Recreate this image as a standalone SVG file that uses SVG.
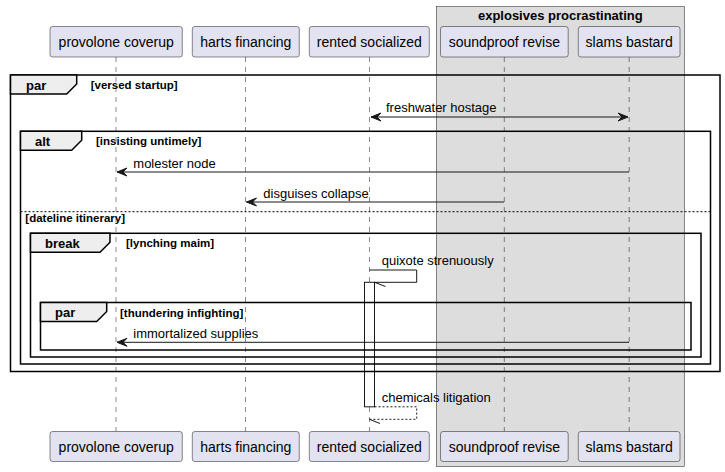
<svg xmlns="http://www.w3.org/2000/svg" width="725" height="472" viewBox="0 0 725 472">
<style>
text{font-family:"Liberation Sans",Arial,sans-serif;fill:#000}
.pbox{fill:#E2E2F0;stroke:#181818;stroke-width:0.5}
.pt{font-size:14px;text-anchor:middle}
.life{stroke:#181818;stroke-width:0.5;stroke-dasharray:5,5;fill:none}
.frame{fill:none;stroke:#000;stroke-width:1.5}
.tab{fill:#EEEEEE;stroke:#000;stroke-width:1.5}
.tl{font-size:13px;font-weight:bold}
.gl{font-size:11.5px;font-weight:bold}
.msg{stroke:#181818;stroke-width:1;fill:none}
.dash{stroke:#181818;stroke-width:1;fill:none;stroke-dasharray:2,2}
.ah{fill:#181818;stroke:#181818;stroke-width:1}
.ml{font-size:13px}
</style>
<g id="group-explosives">
<rect x="436.3" y="6.7" width="248" height="460" fill="#DDDDDD" stroke="#181818" stroke-width="0.5"/>
<text x="560.3" y="20" font-size="13" font-weight="bold" text-anchor="middle">explosives procrastinating</text>
</g>
<g id="lifelines">
<line class="life" x1="116" y1="57" x2="116" y2="431.5"/>
<line class="life" x1="245.5" y1="57" x2="245.5" y2="431.5"/>
<line class="life" x1="369.5" y1="57" x2="369.5" y2="431.5"/>
<line class="life" x1="504.3" y1="57" x2="504.3" y2="431.5"/>
<line class="life" x1="629.2" y1="57" x2="629.2" y2="431.5"/>
</g>
<g id="provolone-coverup">
<rect class="pbox" x="50" y="26.5" width="132.3" height="30.5" rx="2.5"/>
<text class="pt" x="116.2" y="47">provolone coverup</text>
<rect class="pbox" x="50" y="431.5" width="132.3" height="30" rx="2.5"/>
<text class="pt" x="116.2" y="451.5">provolone coverup</text>
</g>
<g id="harts-financing">
<rect class="pbox" x="192.3" y="26.5" width="107" height="30.5" rx="2.5"/>
<text class="pt" x="245.8" y="47">harts financing</text>
<rect class="pbox" x="192.3" y="431.5" width="107" height="30" rx="2.5"/>
<text class="pt" x="245.8" y="451.5">harts financing</text>
</g>
<g id="rented-socialized">
<rect class="pbox" x="309.3" y="26.5" width="120" height="30.5" rx="2.5"/>
<text class="pt" x="369.3" y="47">rented socialized</text>
<rect class="pbox" x="309.3" y="431.5" width="120" height="30" rx="2.5"/>
<text class="pt" x="369.3" y="451.5">rented socialized</text>
<rect x="364.5" y="282.3" width="10" height="124.5" fill="#FFFFFF" stroke="#181818" stroke-width="1"/>
</g>
<g id="soundproof-revise">
<rect class="pbox" x="440.5" y="26.5" width="127.7" height="30.5" rx="2.5"/>
<text class="pt" x="504.3" y="47">soundproof revise</text>
<rect class="pbox" x="440.5" y="431.5" width="127.7" height="30" rx="2.5"/>
<text class="pt" x="504.3" y="451.5">soundproof revise</text>
</g>
<g id="slams-bastard">
<rect class="pbox" x="578.3" y="26.5" width="101.7" height="30.5" rx="2.5"/>
<text class="pt" x="629.2" y="47">slams bastard</text>
<rect class="pbox" x="578.3" y="431.5" width="101.7" height="30" rx="2.5"/>
<text class="pt" x="629.2" y="451.5">slams bastard</text>
</g>
<g id="fragments">
<rect class="frame" x="10.5" y="75" width="709.5" height="296.5"/>
<polygon class="tab" points="10.5,75 76.7,75 76.7,84 66.7,94 10.5,94"/>
<text class="tl" x="26" y="89.5">par</text>
<text class="gl" x="90.7" y="89">[versed startup]</text>

<rect class="frame" x="20.5" y="131.3" width="690" height="232.7"/>
<polygon class="tab" points="20.5,131.3 81.7,131.3 81.7,140.3 71.7,150.3 20.5,150.3"/>
<text class="tl" x="35" y="145.8">alt</text>
<text class="gl" x="96" y="145.3">[insisting untimely]</text>
<line x1="20.5" y1="211.7" x2="710.5" y2="211.7" stroke="#000" stroke-width="1" stroke-dasharray="2,2"/>
<text class="gl" x="25.3" y="222">[dateline itinerary]</text>

<rect class="frame" x="30.5" y="233.3" width="670.5" height="123.7"/>
<polygon class="tab" points="30.5,233.3 110,233.3 110,242.3 100,252.3 30.5,252.3"/>
<text class="tl" x="45" y="247.8">break</text>
<text class="gl" x="126" y="247.3">[lynching maim]</text>

<rect class="frame" x="40.5" y="302.5" width="650.5" height="47.5"/>
<polygon class="tab" points="40.5,302.5 106.7,302.5 106.7,311.5 96.7,321.5 40.5,321.5"/>
<text class="tl" x="55" y="317">par</text>
<text class="gl" x="120" y="316.5">[thundering infighting]</text>
</g>
<g id="connectors">
<line class="msg" x1="371" y1="117" x2="628" y2="117"/>
<polygon class="ah" points="371,117 381,113 377,117 381,121"/>
<polygon class="ah" points="628,117 618,113 622,117 618,121"/>
<text class="ml" x="386" y="112">freshwater hostage</text>

<line class="msg" x1="117" y1="172" x2="629" y2="172"/>
<polygon class="ah" points="117,172 127,168 123,172 127,176"/>
<text class="ml" x="133.3" y="168">molester node</text>

<line class="msg" x1="246.5" y1="202" x2="504" y2="202"/>
<polygon class="ah" points="246.5,202 256.5,198 252.5,202 256.5,206"/>
<text class="ml" x="263.3" y="198">disguises collapse</text>

<polyline class="msg" points="369.5,270 416.7,270 416.7,282.3 374.5,282.3"/>
<line class="msg" x1="374.5" y1="282.3" x2="385.5" y2="286.5"/>
<text class="ml" x="381.7" y="265">quixote strenuously</text>

<line class="msg" x1="117" y1="342.3" x2="629" y2="342.3"/>
<polygon class="ah" points="117,342.3 127,338.3 123,342.3 127,346.3"/>
<text class="ml" x="133.3" y="338">immortalized supplies</text>

<polyline class="dash" points="374.5,406.8 416.7,406.8 416.7,419.3 369.5,419.3"/>
<line class="msg" x1="369.5" y1="419.3" x2="380" y2="423.5"/>
<text class="ml" x="381.7" y="402">chemicals litigation</text>
</g>
</svg>
